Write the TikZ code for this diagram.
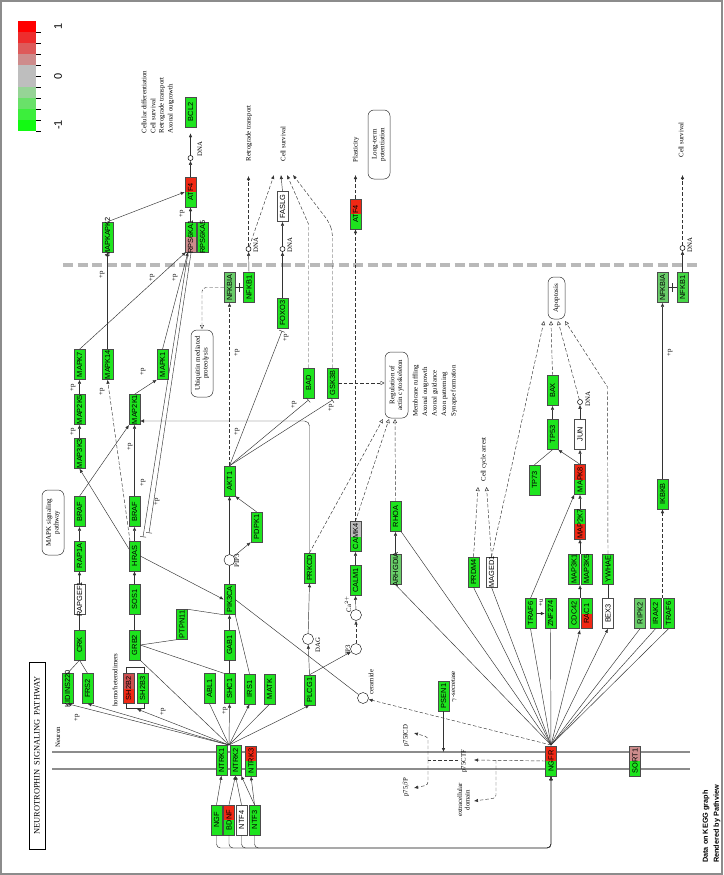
\documentclass[tikz,border=0pt]{standalone}
\usepackage{fontspec}
\setmainfont{Liberation Serif}
\setsansfont{Liberation Sans}
\usetikzlibrary{arrows.meta,calc}
\definecolor{gg}{RGB}{30,228,30}
\definecolor{lg}{RGB}{105,205,105}
\definecolor{mg}{RGB}{70,215,70}
\definecolor{rr}{RGB}{240,40,20}
\definecolor{dr}{RGB}{205,80,80}
\definecolor{pk}{RGB}{205,140,140}
\definecolor{gy}{RGB}{190,190,190}
\definecolor{mem}{RGB}{140,140,140}
\definecolor{dgl}{RGB}{185,185,185}
\newcommand{\rt}[1]{\rotatebox{90}{\makebox[0pt]{#1}}}
\tikzset{
 gene/.style={draw=black!70, line width=0.45pt, minimum width=11pt, minimum height=30pt, inner sep=0pt, font=\sffamily\fontsize{7.4}{8}\selectfont},
 sp/.style 2 args={path picture={\fill[#1] (path picture bounding box.north west) rectangle (path picture bounding box.east); \fill[#2] (path picture bounding box.west) rectangle (path picture bounding box.south east);}},
 ln/.style={draw=black!80, line width=0.45pt},
 ar/.style={ln, -{Latex[length=4pt,width=3.4pt]}},
 dsh/.style={dash pattern=on 3.5pt off 2pt},
 inh/.style={ln, -{Bar[width=6pt]}},
 oar/.style={ln, dsh, -{Triangle[open,length=4pt,width=4pt]}},
 dna/.style={circle, draw=black, line width=0.5pt, minimum size=5pt, inner sep=0pt},
 cpd/.style={circle, draw=black, fill=white, line width=0.4pt, minimum size=11pt, inner sep=0pt},
 lb/.style={rotate=90, inner sep=0.3pt, font=\fontsize{6.8}{7.6}\selectfont},
 pp/.style={rotate=90, inner sep=0pt, font=\fontsize{6.8}{7}\selectfont},
 rbox/.style={draw=black!80, rounded corners=6pt, line width=0.5pt, rotate=90, align=center, inner sep=1pt, font=\fontsize{7}{7.8}\selectfont}
}
\newcommand{\gn}[6]{\node[gene, sp={#4}{#5}] (#1) at (#2,#3) {\rt{#6}};}
\begin{document}
\begin{tikzpicture}[x=1pt,y=-1pt]
\useasboundingbox (0,0) rectangle (723,875);
\fill[white] (0,0) rectangle (723,875);
\draw[mem, line width=1.5pt] (1,1) rectangle (722,874);
% legend
\foreach \c [count=\i from 0] in {{255,0,0},{238,45,45},{222,90,90},{206,140,140},{190,190,190},{190,190,190},{150,212,150},{105,225,105},{60,238,60},{18,250,18}}{
 \definecolor{tmp}{RGB}{\c}
 \fill[tmp] (18,21+11*\i) rectangle (36,32+11*\i);
 \draw[black, line width=0.5pt] (36,32+11*\i) -- (41,32+11*\i);
}
\node[rotate=90, font=\sffamily\fontsize{11}{12}\selectfont] (l1) at (58,26) {1};
\node[rotate=90, font=\sffamily\fontsize{11}{12}\selectfont] (l0) at (58,76) {0};
\node[rotate=90, font=\sffamily\fontsize{11}{12}\selectfont] (lm) at (58,125) {-1};
% title
\node[draw=black, line width=1pt, rotate=90, minimum width=187pt, minimum height=16pt, inner sep=0pt, font=\fontsize{8.4}{9}\selectfont] (title) at (37,755.5) {NEUROTROPHIN\ \ SIGNALING\ \ PATHWAY};
\node[rotate=90, anchor=west, inner sep=0pt, font=\sffamily\bfseries\fontsize{7.3}{8}\selectfont] (d1) at (706,863) {Data on KEGG graph};
\node[rotate=90, anchor=west, inner sep=0pt, font=\sffamily\bfseries\fontsize{7.3}{8}\selectfont] (d2) at (717,863) {Rendered by Pathview};
% membranes
\draw[mem, line width=2.6pt] (52,752) -- (690,752);
\draw[mem, line width=2.6pt] (52,769) -- (690,769);
\draw[dgl, line width=4pt, dash pattern=on 10pt off 4.5pt] (63,265) -- (697,265);
\node[lb, anchor=west] (neuron) at (58,748) {Neuron};
% boxes
\node[rbox, minimum width=65pt, minimum height=22pt] (mapkpw) at (53,522.5) {MAPK signaling\\pathway};
\node[rbox, minimum width=67pt, minimum height=22pt] (ubq) at (202,363.5) {Ubiquitin mediated\\proteolysis};
\node[rbox, minimum width=66pt, minimum height=23pt] (reg) at (396.5,385) {Regulation of\\actin cytoskeleton};
\node[rbox, minimum width=69pt, minimum height=22pt] (ltp) at (379,144.5) {Long-term\\potentiation};
\node[rbox, minimum width=42pt, minimum height=17pt] (apop) at (556.5,298) {Apoptosis};
% genes
\gn{atfa}{190.5}{192}{rr}{gg}{ATF4}
\gn{bcl2}{190.5}{112}{gg}{gg}{BCL2}
\gn{mapkapk}{107.5}{237}{gg}{gg}{MAPKAPK2}
\gn{rsk}{190.5}{237}{gg}{pk}{RPS6KA1}
\gn{msk}{202.5}{237}{gg}{gg}{RPS6KA5}
\gn{nfkbiaa}{229.5}{287.5}{lg}{lg}{NFKBIA}
\gn{nfkba}{249}{287.5}{gg}{gg}{NFKB1}
\gn{foxo3}{282.5}{313}{gg}{gg}{FOXO3}
\gn{faslg}{282.5}{206.5}{white}{white}{FASLG}
\gn{atfb}{355.5}{214}{rr}{gg}{ATF4}
\gn{bad}{308.5}{383}{gg}{gg}{BAD}
\gn{gsk3b}{332.5}{383}{gg}{gg}{GSK3B}
\gn{mapk7}{79.5}{364.5}{gg}{gg}{MAPK7}
\gn{mapk14}{107.5}{364.5}{gg}{gg}{MAPK14}
\gn{mapk1}{162.5}{364.5}{gg}{gg}{MAPK1}
\gn{map2k5}{79.5}{409.5}{gg}{gg}{MAP2K5}
\gn{map2k1}{134.5}{409.5}{gg}{gg}{MAP2K1}
\gn{map3k3}{79.5}{453.5}{gg}{gg}{MAP3K3}
\gn{brafa}{79.5}{511.5}{gg}{gg}{BRAF}
\gn{brafb}{134.5}{511.5}{gg}{gg}{BRAF}
\gn{rap1a}{79.5}{556}{gg}{gg}{RAP1A}
\gn{hras}{134.5}{556}{gg}{gg}{HRAS}
\gn{rapgef1}{79.5}{599.5}{white}{white}{RAPGEF1}
\gn{sos1}{134.5}{599.5}{gg}{gg}{SOS1}
\gn{crk}{79.5}{645}{gg}{gg}{CRK}
\gn{grb2}{134.5}{645}{gg}{gg}{GRB2}
\gn{gab1}{229.5}{645}{gg}{gg}{GAB1}
\gn{ptpn11}{182}{624.5}{gg}{gg}{PTPN11}
\gn{pik3ca}{229.5}{599.5}{gg}{gg}{PIK3CA}
\gn{akt1}{229.5}{481}{gg}{gg}{AKT1}
\gn{pdpk1}{256.5}{527}{gg}{gg}{PDPK1}
\gn{prkcd}{309.5}{568}{gg}{gg}{PRKCD}
\gn{calm1}{355.5}{580.5}{gg}{gg}{CALM1}
\gn{camk4}{355.5}{536.5}{gy}{gg}{CAMK4}
\gn{rhoa}{395.5}{516.5}{gg}{gg}{RHOA}
\gn{arhgdia}{395.5}{569.5}{lg}{lg}{ARHGDIA}
\gn{prdm4}{473.5}{572}{gg}{gg}{PRDM4}
\gn{maged1}{491.5}{572}{white}{white}{MAGED1}
\gn{kidins}{67.5}{688.5}{gg}{gg}{KIDINS220}
\gn{frs2}{87.5}{688.5}{gg}{gg}{FRS2}
\gn{shbb}{128.5}{688.5}{dr}{rr}{SH2B2}
\gn{shbc}{142.5}{688.5}{gg}{gg}{SH2B3}
\gn{abl1}{209.5}{688.5}{gg}{gg}{ABL1}
\gn{shc1}{229.5}{688.5}{gg}{gg}{SHC1}
\gn{irs1}{249.5}{689}{gg}{gg}{IRS1}
\gn{matk}{269.5}{689}{gg}{gg}{MATK}
\gn{plcg1}{309.5}{690}{gg}{gg}{PLCG1}
\gn{psen1}{443.5}{696}{gg}{gg}{PSEN1}
\gn{ntrka}{221.5}{760.5}{gg}{gg}{NTRK1}
\gn{ntrkb}{235.5}{760.5}{gg}{gg}{NTRK2}
\gn{ntrkc}{251}{761}{rr}{gg}{NTRK3}
\gn{ngf}{216.5}{820}{gg}{gg}{NGF}
\gn{bdnf}{229}{820}{rr}{gg}{BDNF}
\gn{ntf4}{241.5}{820}{white}{white}{NTF4}
\gn{ntf3}{254.5}{820}{gg}{gg}{NTF3}
\gn{ngfr}{551}{761}{rr}{gg}{NGFR}
\gn{sort1}{635}{761}{pk}{gg}{SORT1}
\gn{tp53}{552.5}{434.5}{gg}{gg}{TP53}
\gn{bax}{552.5}{390.5}{gg}{gg}{BAX}
\gn{jun}{580}{434.5}{white}{white}{JUN}
\gn{tp73}{534.5}{480}{gg}{gg}{TP73}
\gn{mapk8}{580}{479.5}{rr}{gg}{MAPK8}
\gn{map2k7}{580}{524}{gg}{rr}{MAP2K7}
\gn{map3k1}{574}{569}{gg}{gg}{MAP3K1}
\gn{map3k5}{586.5}{569}{gg}{gg}{MAP3K5}
\gn{ywhae}{608}{569}{gg}{gg}{YWHAE}
\gn{trafa}{530.5}{613.5}{gg}{gg}{TRAF6}
\gn{znf}{550.5}{613.5}{gg}{gg}{ZNF274}
\gn{cdc42}{574}{613.5}{gg}{gg}{CDC42}
\gn{rac1}{586.5}{613.5}{gg}{rr}{RAC1}
\gn{bex3}{608}{613.5}{white}{white}{BEX3}
\gn{ripk2}{640}{613.5}{lg}{lg}{RIPK2}
\gn{irak2}{655.5}{613.5}{gg}{gg}{IRAK2}
\gn{trafb}{668.5}{613.5}{gg}{gg}{TRAF6}
\gn{ikbkb}{662.5}{494}{gg}{gg}{IKBKB}
\gn{nfkbiab}{662.5}{287.5}{lg}{lg}{NFKBIA}
\gn{nfkbb}{682.5}{287.5}{mg}{mg}{NFKB1}
% DNA circles
\node[dna] (c1) at (190.5,158) {};
\node[dna] (c2) at (282.5,249) {};
\node[dna] (c3) at (248.5,249) {};
\node[dna] (c4) at (682.5,248) {};
\node[dna] (c5) at (580,402) {};
\node[lb, anchor=west] at (200,157) {DNA};
\node[lb, anchor=west] at (290,253) {DNA};
\node[lb, anchor=west] at (256,253) {DNA};
\node[lb, anchor=west] at (690,253) {DNA};
\node[lb, anchor=west] at (588,407) {DNA};
% compounds
\node[cpd] (pip3) at (229.5,560) {};
\node[cpd] (dag) at (308,639) {};
\node[cpd] (ip3) at (356,649) {};
\node[cpd] (ca) at (356,615) {};
\node[cpd] (cer) at (363,698) {};
\node[lb, anchor=west] at (237,568) {PIP3};
\node[lb, anchor=west] at (318,653) {DAG};
\node[lb, anchor=west] at (348,655) {IP3};
\node[lb, anchor=west] at (348,613) {Ca$^{2+}$};
\node[lb, anchor=west] at (371,695) {ceramide};
\node[lb, anchor=west] at (454,703) {$\gamma$-secretase};
% outcome texts
\node[lb, anchor=west] at (144,134) {Cellular differentiation};
\node[lb, anchor=west] at (153,134) {Cell survival};
\node[lb, anchor=west] at (162,134) {Retrograde transport};
\node[lb, anchor=west] at (171,134) {Axonal outgrowth};
\node[lb, anchor=west] (rt) at (249,162) {Retrograde transport};
\node[lb, anchor=west] (cs) at (283,162) {Cell survival};
\node[lb, anchor=west] (pl) at (356,163) {Plasticity};
\node[lb, anchor=west] (cs2) at (681,158) {Cell survival};
\node[lb, anchor=west] at (416,417) {Membrane ruffling};
\node[lb, anchor=west] at (425.5,417) {Axonal outgrowth};
\node[lb, anchor=west] at (435,417) {Axonal guidance};
\node[lb, anchor=west] at (444.5,417) {Axon patterning};
\node[lb, anchor=west] at (454,417) {Synapse formation};
\node[lb, anchor=west] (cca) at (484,482) {Cell cycle arrest};
\node[lb, anchor=west] at (115,707) {homo/heterodimers};
\node[lb, anchor=west] at (406,747) {p75ICD};
\node[lb, anchor=west] at (406,797) {p75$\beta$P};
\node[lb, anchor=west] at (464,773) {p75CTF};
\node[lb, align=center] at (463.5,800) {extracellular\\domain};
% top region
\draw[ar] (atfa.north) -- (c1);
\draw[ar, shorten >=6pt] (c1) -- (bcl2.south);
\draw[ar] (rsk.north) -- (atfa.south);
\draw[ar] (mapkapk.north) -- (atfa.west);
\draw[ar] (mapk14.north) -- (mapkapk.south);
\draw[ar] (mapk7.north) -- (186,252);
\draw[ar] (mapk1.north) -- (188,252);
\draw[inh] (188,253) -- (143,537);
\draw[inh] (191,253) -- (149,533);
\draw[ar] (map2k5.north) -- (mapk7.south);
\draw[ar] (map3k3.north) -- (map2k5.south);
\draw[ar, dsh] (130,541) -- (mapk14.south);
\draw[ar] (129,549) -- (map3k3.south);
\draw[ar] (brafa.north) -- (129,425);
\draw[ar] (brafb.north) -- (map2k1.south);
\draw[ar] (map2k1.north) -- (mapk1.south west);
\draw[ar, rounded corners=5pt] (prkcd.north) -- (309.5,421) -- (140,421);
\draw[ar] (rap1a.north) -- (brafa.south);
\draw[ar] (rapgef1.north) -- (rap1a.south);
\draw[ln] (crk.north) -- (rapgef1.south);
\draw[ln] (kidins.north) -- (crk.south);
\draw[ln] (frs2.north) -- (crk.south);
\draw[ar] (hras.north) -- (brafb.south);
\draw[ar] (sos1.north) -- (hras.south);
\draw[ln] (grb2.north) -- (sos1.south);
\draw[ar] (hras.east) -- (pik3ca.west);
\draw[ln] (pik3ca.north) -- (pip3);
\draw[ar] (pip3) -- (akt1.south);
\draw[ar] (pip3) -- (pdpk1.south west);
\draw[ar] (pdpk1.north) -- (akt1.south east);
\draw[ar] (gab1.north) -- (pik3ca.south);
\draw[ln] (gab1.south) -- (shc1.north);
\draw[ln] (grb2.east) -- (ptpn11.south west);
\draw[ln] (ptpn11.north east) -- (pik3ca.south west);
% AKT outputs
\draw[inh] (akt1.north) -- (282,331);
\draw[inh] (akt1.north) -- (308.5,400);
\draw[inh] (akt1.north) -- (332.5,400);
\draw[ar, dsh] (akt1.north) -- (nfkbiaa.south);
\draw[ln] (nfkbiaa.east) -- (nfkba.west);
\draw[ln] (239.5,283) -- (239.5,292);
\draw[oar, rounded corners=4pt] (nfkbiaa.west) -| (202,329);
\draw[ar] (nfkba.north) -- (c3);
\draw[ar, dsh] (c3) -- (248.5,176);
\draw[ar, dsh] (c3) -- (274,175);
\draw[ar] (foxo3.north) -- (c2);
\draw[ar] (c2) -- (faslg.south);
\draw[ar] (faslg.north) -- (281,175);
\draw[ar, dsh] (bad.north) -- (308.5,224) -- (287,175);
\draw[ar, dsh, rounded corners=6pt] (gsk3b.north) -- (332.5,232) -- (329,222) -- (293,175);
\draw[oar] (gsk3b.east) -- (384.5,383);
\draw[ar, dsh] (atfb.north) -- (355.5,175);
\draw[ar, dsh] (camk4.north) -- (atfb.south);
\draw[oar] (camk4.north) -- (389,419);
\draw[oar] (prkcd.north) -- (383,419);
\draw[oar] (rhoa.north) -- (395,419);
% PLC
\draw[ar] (plcg1.north) -- (dag);
\draw[ar] (plcg1.north) -- (ip3);
\draw[ar] (dag) -- (prkcd.south);
\draw[ar, dsh] (ip3) -- (ca);
\draw[ar] (ca) -- (calm1.south);
\draw[ar] (calm1.north) -- (camk4.south);
\draw[ar] (arhgdia.north) -- (rhoa.south);
% right
\draw[ar] (tp53.north) -- (bax.south);
\draw[oar] (bax.north) -- (551,321);
\draw[oar] (c5) -- (558,321);
\draw[oar] (ywhae.north) -- (607.5,387) -- (565,321);
\draw[oar] (maged1.north) -- (544,321);
\draw[oar] (maged1.north) -- (486.5,487);
\draw[oar] (prdm4.north) -- (478,487);
\draw[ar] (jun.north) -- (c5);
\draw[ar] (mapk8.north) -- (jun.south);
\draw[ar] (mapk8.north) -- (tp53.south east);
\draw[ln] (tp73.north) -- (tp53.south);
\draw[ar] (map2k7.north) -- (mapk8.south);
\draw[ar] (580,554) -- (map2k7.south);
\draw[ar] (580,598) -- (580,585);
\draw[ar] (trafa.north) -- (mapk8.south west);
\draw[ar] (trafa.east) -- (znf.west);
\node[pp] at (541,603) {+u};
\draw[ln] (bex3.north) -- (ywhae.south);
\draw[ar, dsh] (662.5,598) -- (ikbkb.south);
\draw[ar] (ikbkb.north) -- (nfkbiab.south);
\draw[ln] (nfkbiab.east) -- (nfkbb.west);
\draw[ln] (672.5,283) -- (672.5,292);
\draw[ar] (nfkbb.north) -- (c4);
\draw[ar, dsh] (c4) -- (682.5,175);
% NGFR fan
\coordinate (nf) at (551,745);
\draw[ln] (nf) -- (rhoa.south east);
\draw[ln] (nf) -- (arhgdia.south);
\draw[ln] (nf) -- (prdm4.south);
\draw[ln] (nf) -- (maged1.south);
\draw[ln] (nf) -- (trafa.south);
\draw[ln] (nf) -- (znf.south);
\draw[ar] (nf) -- (580,630);
\draw[ar] (nf) -- (bex3.south);
\draw[ln] (nf) -- (ripk2.south);
\draw[ln] (nf) -- (irak2.south);
\draw[ln] (nf) -- (trafb.south);
\draw[ar, dsh] (nf) -- (cer);
\draw[ar] (psen1.south) -- (443.5,752);
% NTRK fan
\coordinate (nt) at (229,745);
\draw[ar] (nt) -- (kidins.south);
\draw[ar] (nt) -- (frs2.south);
\draw[ln] (126,703) -- (126,708) -- (144,708) -- (144,703);
\draw[ln] (126,673) -- (126,667) -- (144,667) -- (144,673);
\draw[ar] (nt) -- (137,709);
\draw[ln] (nt) -- (abl1.south);
\draw[ar] (nt) -- (shc1.south);
\draw[ar] (nt) -- (irs1.south);
\draw[ln] (nt) -- (matk.south);
\draw[ar] (nt) -- (plcg1.south);
\draw[ln] (nt) -- (grb2.south east);
\draw[ln] (shc1.north west) -- (grb2.east);
\draw[ln] (irs1.north) -- (pik3ca.south east);
\draw[ln] (cer) -- (pik3ca.east);
% ligands
\draw[ar] (ngf.north) -- (ntrka.south);
\draw[ar] (bdnf.north) -- (ntrkb.south);
\draw[ar] (ntf4.north) -- (ntrkb.south);
\draw[ar] (ntf3.north) -- (ntrkc.south);
\draw[ar] (ntf3.north) -- (ntrkb.south east);
\foreach \g in {ngf,bdnf,ntf4,ntf3}{\draw[ar, rounded corners=4pt] (\g.south) |- (551,848) -- (ngfr.south);}
% cleavage
\draw[ar, dsh] (ngfr.west) -- (474,760);
\draw[ln, dsh] (458,760) -- (428,760);
\draw[ar, dsh, rounded corners=3pt] (428,760) -- (428,737) -- (414,733);
\draw[ar, dsh, rounded corners=3pt] (428,760) -- (428,785) -- (414,788);
\draw[ar, dsh, rounded corners=3pt] (496,760) -- (496,798) -- (474,801);
% +p labels
\foreach \p in {{102,275},{152,278},{175,278},{182,214},{73,388},{73,432},{102,392},{143,372},{130,447},{143,483},{157,502},{237,353},{237,432},{286,338},{294,405},{331,408},{670,353},{77,718},{163,712},{225,711}}{
 \node[pp] at (\p) {+p};
}
\end{tikzpicture}
\end{document}
